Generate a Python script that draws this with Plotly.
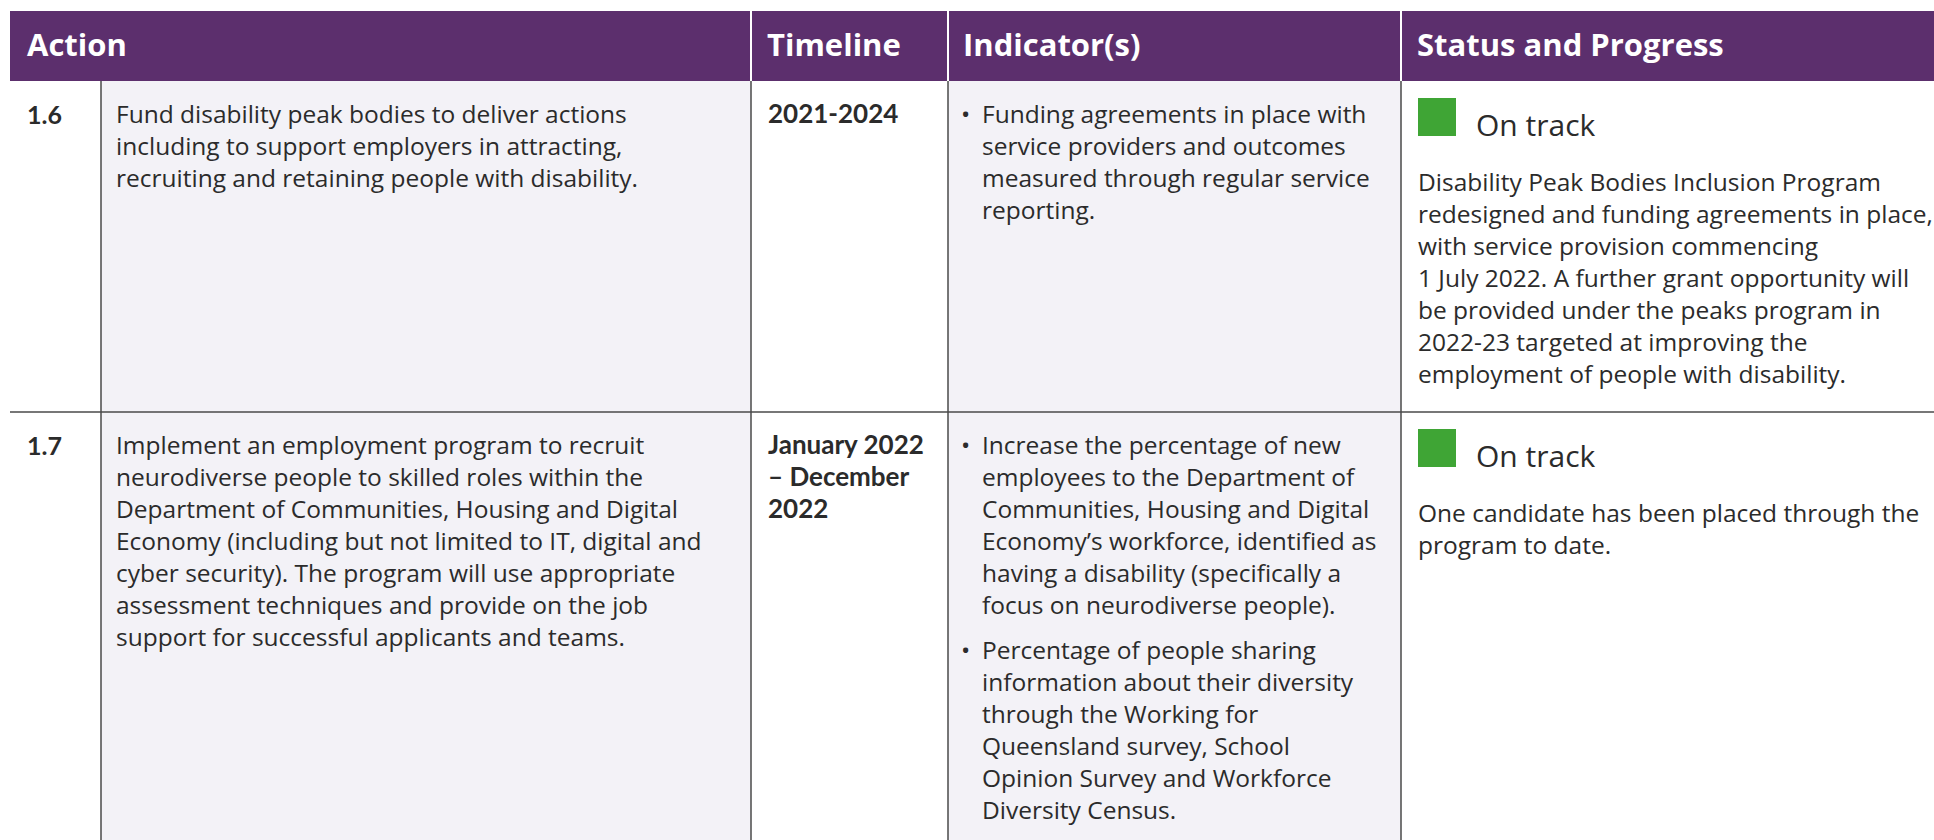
import plotly.graph_objects as go

# ---------------- data ----------------
headers = ["Action", "Timeline", "Indicator(s)", "Status and Progress"]
action_ids = ["1.6", "1.7"]
action_text = [
    ["Fund disability peak bodies to deliver actions",
     "including to support employers in attracting,",
     "recruiting and retaining people with disability."],
    ["Implement an employment program to recruit",
     "neurodiverse people to skilled roles within the",
     "Department of Communities, Housing and Digital",
     "Economy (including but not limited to IT, digital and",
     "cyber security). The program will use appropriate",
     "assessment techniques and provide on the job",
     "support for successful applicants and teams."],
]
timelines = [
    ["2021-2024"],
    ["January 2022", "– December", "2022"],
]
indicators = [
    [["Funding agreements in place with",
      "service providers and outcomes",
      "measured through regular service",
      "reporting."]],
    [["Increase the percentage of new",
      "employees to the Department of",
      "Communities, Housing and Digital",
      "Economy’s workforce, identified as",
      "having a disability (specifically a",
      "focus on neurodiverse people)."],
     ["Percentage of people sharing",
      "information about their diversity",
      "through the Working for",
      "Queensland survey, School",
      "Opinion Survey and Workforce",
      "Diversity Census."]],
]
status_labels = ["On track", "On track"]
status_notes = [
    ["Disability Peak Bodies Inclusion Program",
     "redesigned and funding agreements in place,",
     "with service provision commencing",
     "1 July 2022. A further grant opportunity will",
     "be provided under the peaks program in",
     "2022-23 targeted at improving the",
     "employment of people with disability."],
    ["One candidate has been placed through the",
     "program to date."],
]

# ---------------- layout / style ----------------
W, H = 1934, 840
col_edges = [10, 101, 751, 948, 1401, W]
header_top, header_bottom = 11, 81
row_tops = [81, 412]
purple = "#5C2F6D"
lav = "#F3F2F7"
green = "#3FA535"
txt = "#2B2B2B"
line_col = "#4A4A4A"
body_font = "Open Sans"
body_size = 24.5
line_h = 32
first_base = 41
bullet_gap = 13

fig = go.Figure()
fig.add_trace(go.Scatter(x=[0, W], y=[0, H], mode="markers",
                         marker=dict(opacity=0), hoverinfo="skip", showlegend=False))

shapes = []
annotations = []


def text_line(x, baseline, s, size=body_size, bold=False, color=txt, family=body_font):
    annotations.append(dict(
        x=x, y=baseline - 0.34 * size, xref="x", yref="y", text=s,
        showarrow=False, xanchor="left", yanchor="middle",
        font=dict(family=family, size=size, color=color,
                  weight="bold" if bold else "normal"),
        borderpad=0))


# column backgrounds (body)
body_fills = ["#FFFFFF", lav, "#FFFFFF", lav, "#FFFFFF"]
for i, f in enumerate(body_fills):
    shapes.append(dict(type="rect", xref="x", yref="y", x0=col_edges[i], x1=col_edges[i + 1],
                       y0=header_bottom, y1=H, fillcolor=f, line=dict(width=0), layer="below"))

# header band
shapes.append(dict(type="rect", xref="x", yref="y", x0=col_edges[0], x1=W,
                   y0=header_top, y1=header_bottom, fillcolor=purple, line=dict(width=0)))
# header white separators
for xe in col_edges[2:5]:
    shapes.append(dict(type="line", xref="x", yref="y", x0=xe, x1=xe,
                       y0=header_top, y1=header_bottom, line=dict(color="#FFFFFF", width=2)))
# body vertical lines
for xe in col_edges[1:5]:
    shapes.append(dict(type="line", xref="x", yref="y", x0=xe, x1=xe,
                       y0=header_bottom, y1=H, line=dict(color=line_col, width=1.5)))
# row dividers
for rt in row_tops[1:]:
    shapes.append(dict(type="line", xref="x", yref="y", x0=col_edges[0], x1=W,
                       y0=rt, y1=rt, line=dict(color=line_col, width=1.5)))

# header text
head_x = [26, 766, 962, 1416]
for hx, h in zip(head_x, headers):
    text_line(hx, 55, h, size=31, bold=True, color="#FFFFFF")

# rows
for r, top in enumerate(row_tops):
    b0 = top + first_base
    text_line(26, b0, action_ids[r], size=25, bold=True, family="Lato")
    for k, s in enumerate(action_text[r]):
        text_line(115, b0 + k * line_h, s)
    for k, s in enumerate(timelines[r]):
        text_line(767, b0 + k * line_h, s, size=26, bold=True, family="Lato")
    b = b0
    for items in indicators[r]:
        text_line(960, b, "•")
        for k, s in enumerate(items):
            text_line(981, b + k * line_h, s)
        b += len(items) * line_h + bullet_gap
    # status square + label
    shapes.append(dict(type="rect", xref="x", yref="y", x0=1418, x1=1456,
                       y0=top + 17, y1=top + 55, fillcolor=green, line=dict(width=0)))
    text_line(1475, top + 54, status_labels[r], size=30)
    for k, s in enumerate(status_notes[r]):
        text_line(1417, top + 109 + k * line_h, s)

fig.update_layout(
    width=W, height=H,
    margin=dict(l=0, r=0, t=0, b=0),
    paper_bgcolor="#FFFFFF", plot_bgcolor="#FFFFFF",
    xaxis=dict(range=[0, W], visible=False, fixedrange=True),
    yaxis=dict(range=[H, 0], visible=False, fixedrange=True),
    shapes=shapes, annotations=annotations, showlegend=False,
)
fig.write_html("out.html", config={"displayModeBar": False},
               post_script="document.body.style.margin='0px';document.body.style.overflow='hidden';")
